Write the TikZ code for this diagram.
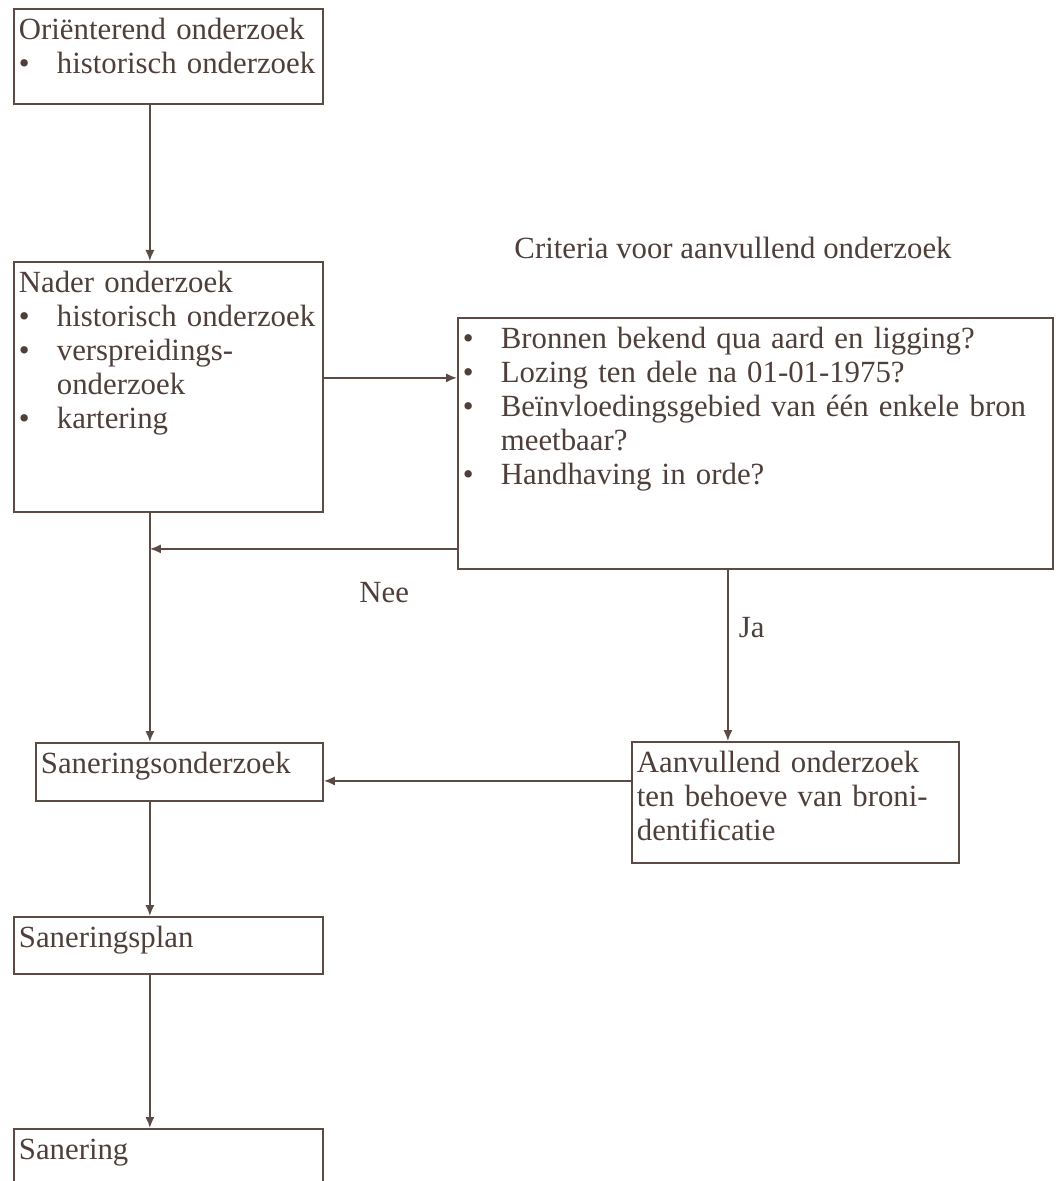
\documentclass[tikz,border=0pt]{standalone}
\usepackage{fontspec}
\setmainfont{Liberation Serif}
\usetikzlibrary{arrows.meta,positioning}
\usepackage{xcolor}
\definecolor{ink}{HTML}{4E3F3A}
\definecolor{rule}{HTML}{5C4A44}
\hyphenpenalty=10000
\newcommand{\itm}[1]{\hangindent=19pt\hangafter=1\noindent\makebox[19pt][l]{\textbullet}#1\par}

\begin{document}
\begin{tikzpicture}[x=0.5pt,y=-0.5pt,>={Latex[length=5.5pt,width=4.6pt]},line width=0.9pt]
\tikzstyle{box}=[draw=rule,text=ink,anchor=north west,align=left,inner xsep=2.5pt,inner ysep=4pt,text height=11.25pt,font=\fontsize{15.4}{17}\selectfont]
\tikzstyle{tag}=[text=ink,inner sep=0pt,font=\fontsize{15.4}{17}\selectfont]
\tikzstyle{link}=[->,draw=rule]
\useasboundingbox (0,0) rectangle (1057,1181);

	\node[box,text width=149.5pt,text depth=28.25pt] (ori) at (13,8) {Oriënterend onderzoek\par\itm{historisch onderzoek}};
	\node[box,text width=149.5pt,text depth=105.75pt] (nader) at (13,261) {Nader onderzoek\par\itm{historisch onderzoek}\itm{verspreidings-\newline onderzoek}\itm{kartering}};
	\node[tag] (crittitle) at (733,248) {Criteria voor aanvullend onderzoek};
	\node[box,text width=292.5pt,text depth=106.25pt] (crit) at (457,317) {\itm{Bronnen bekend qua aard en ligging?}\itm{Lozing ten dele na 01-01-1975?}\itm{Beïnvloedingsgebied van één enkele bron\newline meetbaar?}\itm{Handhaving in orde?}};
	\node[box,text width=138.5pt,text depth=9.75pt] (sanond) at (35,742) {Saneringsonderzoek};
	\node[box,text width=158.5pt,text depth=41.25pt] (aanv) at (631,741) {Aanvullend onderzoek\newline ten behoeve van broni-\newline dentificatie};
	\node[box,text width=149.5pt,text depth=9.25pt] (sanplan) at (13,916) {Saneringsplan};
	\node[box,text width=149.5pt,text depth=20.75pt] (sanering) at (13,1128) {Sanering};

	\coordinate (spine) at ([xshift=-9.25pt]ori.south);
	\draw[link] (spine) -- (spine |- nader.north);
	\draw[link] ([yshift=4.5pt]nader.east) -- ([yshift=4.5pt]nader.east -| crit.west);
	\draw[link] (spine |- nader.south) -- (spine |- sanond.north);
	\draw[link] ([yshift=-52.75pt]crit.west) -- node[tag,pos=0.237,below=16.4pt] (nee) {Nee} ([yshift=-52.75pt]crit.west -| spine);
	\draw[link] ([xshift=-13.75pt]crit.south) -- node[tag,pos=0.34,right=5pt] (ja) {Ja} ([xshift=-13.75pt]crit.south |- aanv.north);
	\draw[link] ([yshift=10.75pt]aanv.west) -- ([yshift=10.75pt]aanv.west -| sanond.east);
	\draw[link] (spine |- sanond.south) -- (spine |- sanplan.north);
	\draw[link] (spine |- sanplan.south) -- (spine |- sanering.north);
\end{tikzpicture}
\end{document}
